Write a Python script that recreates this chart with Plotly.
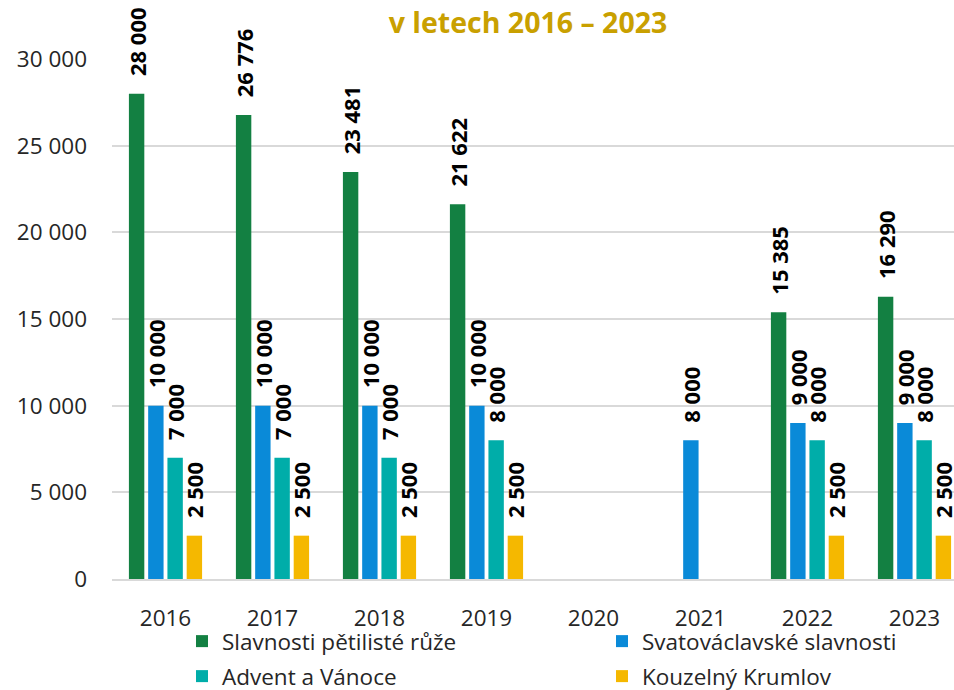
import plotly.graph_objects as go

years = ["2016", "2017", "2018", "2019", "2020", "2021", "2022", "2023"]
slavnosti_ruze = [28000, 26776, 23481, 21622, None, None, 15385, 16290]
svatovaclavske = [10000, 10000, 10000, 10000, None, 8000, 9000, 9000]
advent = [7000, 7000, 7000, 8000, None, None, 8000, 8000]
kouzelny = [2500, 2500, 2500, 2500, None, None, 2500, 2500]

series = [
    ("Slavnosti pětilisté růže", slavnosti_ruze, "#138042", "legend"),
    ("Svatováclavské slavnosti", svatovaclavske, "#0A8AD8", "legend"),
    ("Advent a Vánoce", advent, "#00ADA9", "legend2"),
    ("Kouzelný Krumlov", kouzelny, "#F5B800", "legend2"),
]

FONT = "Open Sans"
fig = go.Figure()
for name, vals, col, leg in series:
    fig.add_trace(go.Bar(
        x=years, y=vals, name=name, legend=leg,
        marker=dict(color=col, line=dict(width=0)),
        texttemplate="\u2002\u2009%{y:,d}",
        textposition="outside",
        textangle=-90,
        constraintext="none",
        cliponaxis=False,
        textfont=dict(family=FONT, size=22, color="#000000", weight="bold"),
    ))

legend_common = dict(
    orientation="h",
    xref="container", yref="container",
    x=182 / 954, xanchor="left", yanchor="top",
    entrywidth=375,
    font=dict(family=FONT, size=22.5, color="#262626"),
    itemclick=False, bgcolor="rgba(0,0,0,0)",
)

fig.update_layout(
    width=954, height=690,
    margin=dict(l=112, r=0, t=59, b=111),
    paper_bgcolor="white", plot_bgcolor="white",
    separators=", ",
    barmode="group", bargap=0.28, bargroupgap=0.2,
    font=dict(family=FONT, color="#262626"),
    title=dict(
        text="<b>v letech 2016 – 2023</b>",
        font=dict(family=FONT, size=28.5, color="#C9A000"),
        x=528 / 954, xanchor="center", xref="container",
        y=1 - 23 / 690, yanchor="middle", yref="container",
    ),
    legend=dict(legend_common, y=1 - 620 / 690),
    legend2=dict(legend_common, y=1 - 655 / 690),
    showlegend=True,
)

fig.update_xaxes(
    type="category", range=[-0.5, -0.5 + 842 / 107], automargin=False,
    showgrid=False, showline=True, linecolor="#D9D9D9", linewidth=1.5,
    ticks="", ticklabelstandoff=18,
    tickfont=dict(family=FONT, size=22.5, color="#262626"),
)
fig.update_yaxes(
    range=[0, 30000], dtick=5000, tickformat=",d", automargin=False,
    showgrid=True, gridcolor="#D9D9D9", gridwidth=1.5,
    zeroline=False, showline=False,
    ticks="", ticklabelstandoff=24,
    tickfont=dict(family=FONT, size=22.5, color="#262626"),
)

fig.write_html(
    "out.html",
    config={"displayModeBar": False},
    post_script="document.body.style.margin='0';document.body.style.overflow='hidden';",
)
